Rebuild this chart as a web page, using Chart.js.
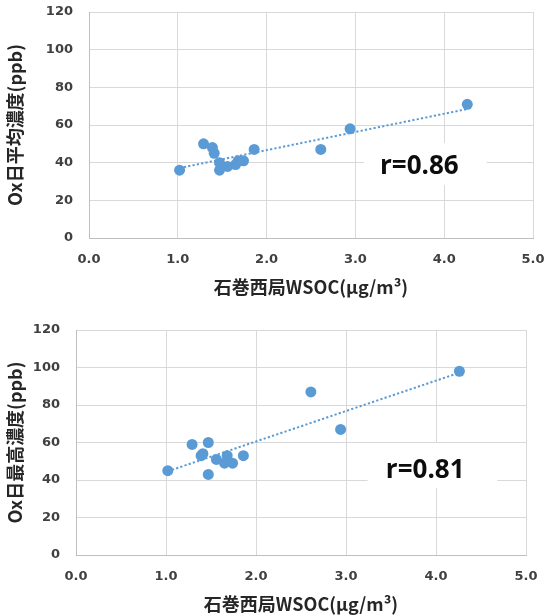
<!DOCTYPE html>
<html><head><meta charset="utf-8">
<script src="https://cdn.jsdelivr.net/npm/chart.js@4/dist/chart.umd.min.js"></script>
<style>
html,body{margin:0;padding:0;background:#fff;width:545px;height:616px;overflow:hidden}
#w1{position:absolute;left:0;top:0;width:545px;height:305px}
#w2{position:absolute;left:0;top:305px;width:545px;height:311px}
</style>
</head><body>
<div id="w1"><canvas id="c1"></canvas></div>
<div id="w2"><canvas id="c2"></canvas></div>
<script>
// ---- data ----
const wsoc  = [1.02, 1.29, 1.39, 1.41, 1.47, 1.47, 1.56, 1.65, 1.68, 1.74, 1.86, 2.61, 2.94, 4.26];
const oxAvg = [36, 50, 48, 45, 40, 36, 38, 39, 41, 41, 47, 47, 58, 71];
const oxMax = [45, 59, 53, 54, 60, 43, 51, 49, 53, 49, 53, 87, 67, 98];
const xTickValues = [0, 1, 2, 3, 4, 5];
const yTickValues = [0, 20, 40, 60, 80, 100, 120];
const xTitle = '石巻西局WSOC(μg/m³)';
const yTitleAvg = 'Ox日平均濃度(ppb)';
const yTitleMax = 'Ox日最高濃度(ppb)';
const rAvg = 'r=0.86';
const rMax = 'r=0.81';

const BLUE = '#5B9BD5';

function regression(xs, ys) {
  const n = xs.length;
  const mx = xs.reduce((a, b) => a + b, 0) / n;
  const my = ys.reduce((a, b) => a + b, 0) / n;
  let sxy = 0, sxx = 0;
  for (let i = 0; i < n; i++) { sxy += (xs[i] - mx) * (ys[i] - my); sxx += (xs[i] - mx) ** 2; }
  const b = sxy / sxx, a = my - b * mx;
  const x0 = Math.min(...xs), x1 = Math.max(...xs);
  return [{x: x0, y: a + b * x0}, {x: x1, y: a + b * x1}];
}

const rLabelPlugin = {
  id: 'rLabel',
  beforeDatasetsDraw(chart, args, opts) {
    const {ctx, scales: {x, y}} = chart;
    const bx0 = x.getPixelForValue(opts.box[0]), bx1 = x.getPixelForValue(opts.box[1]);
    const by0 = y.getPixelForValue(opts.box[2]), by1 = y.getPixelForValue(opts.box[3]);
    ctx.save();
    ctx.fillStyle = '#ffffff';
    ctx.fillRect(bx0, by0, bx1 - bx0, by1 - by0);
    ctx.fillStyle = '#0d0d0d';
    ctx.font = 'bold 26px "Open Sans"';
    ctx.textAlign = 'center';
    ctx.textBaseline = 'middle';
    ctx.fillText(opts.text, x.getPixelForValue(opts.at[0]), y.getPixelForValue(opts.at[1]));
    ctx.restore();
  }
};

function makeChart(id, ys, yTitle, rText, layout, rPos) {
  const pts = wsoc.map((v, i) => ({x: v, y: ys[i]}));
  return new Chart(document.getElementById(id), {
    type: 'scatter',
    data: {
      datasets: [
        {
          type: 'line', data: regression(wsoc, ys),
          borderColor: BLUE, borderWidth: 2, borderDash: [2.2, 2.2],
          pointRadius: 0, fill: false, order: 0
        },
        {
          data: pts, backgroundColor: BLUE, borderColor: BLUE, borderWidth: 0,
          pointRadius: 5.5, pointHoverRadius: 5.5, order: 1
        }
      ]
    },
    plugins: [rLabelPlugin],
    options: {
      responsive: true, maintainAspectRatio: false, animation: false,
      events: [],
      layout: {padding: {top: layout.top, right: layout.right, left: 0, bottom: 0}},
      plugins: {
        legend: {display: false}, tooltip: {enabled: false},
        rLabel: {text: rText, box: rPos.box, at: rPos.at}
      },
      scales: {
        x: {
          type: 'linear', min: 0, max: 5,
          afterBuildTicks: s => { s.ticks = xTickValues.map(v => ({value: v})); },
          afterFit: s => { s.height = layout.xh; s.paddingLeft = 0; s.paddingRight = 0; },
          grid: {color: '#D9D9D9', lineWidth: 1, drawTicks: false},
          border: {color: '#BFBFBF', width: 1},
          ticks: {
            padding: 14, color: '#404040',
            font: {family: 'DejaVu Sans', weight: 'bold', size: 13},
            callback: v => Number(v).toFixed(1)
          },
          title: {
            display: true, text: xTitle, color: '#262626',
            font: {family: '"Noto Sans CJK JP"', weight: 'bold', size: 18},
            padding: {top: 0, bottom: layout.xtp}
          }
        },
        y: {
          type: 'linear', min: 0, max: 120,
          afterBuildTicks: s => { s.ticks = yTickValues.map(v => ({value: v})); },
          afterFit: s => { s.width = layout.yw; s.paddingTop = 0; s.paddingBottom = 0; },
          grid: {color: '#D9D9D9', lineWidth: 1, drawTicks: false},
          border: {color: '#BFBFBF', width: 1},
          ticks: {
            padding: 16, color: '#404040',
            font: {family: 'DejaVu Sans', weight: 'bold', size: 13}
          },
          title: {
            display: true, text: yTitle, color: '#262626',
            font: {family: '"Noto Sans CJK JP"', weight: 'bold', size: 18},
            padding: {top: 4, bottom: 0}
          }
        }
      }
    }
  });
}

makeChart('c1', oxAvg, yTitleAvg, rAvg,
  {top: 12, right: 12, xh: 67, yw: 89, xtp: 7},
  {box: [3.10, 4.48, 50.4, 28.1], at: [3.72, 37.7]});
makeChart('c2', oxMax, yTitleMax, rMax,
  {top: 25, right: 19, xh: 61, yw: 76, xtp: 1},
  {box: [3.24, 4.68, 59.7, 35.7], at: [3.88, 45.1]});
</script>
</body></html>
